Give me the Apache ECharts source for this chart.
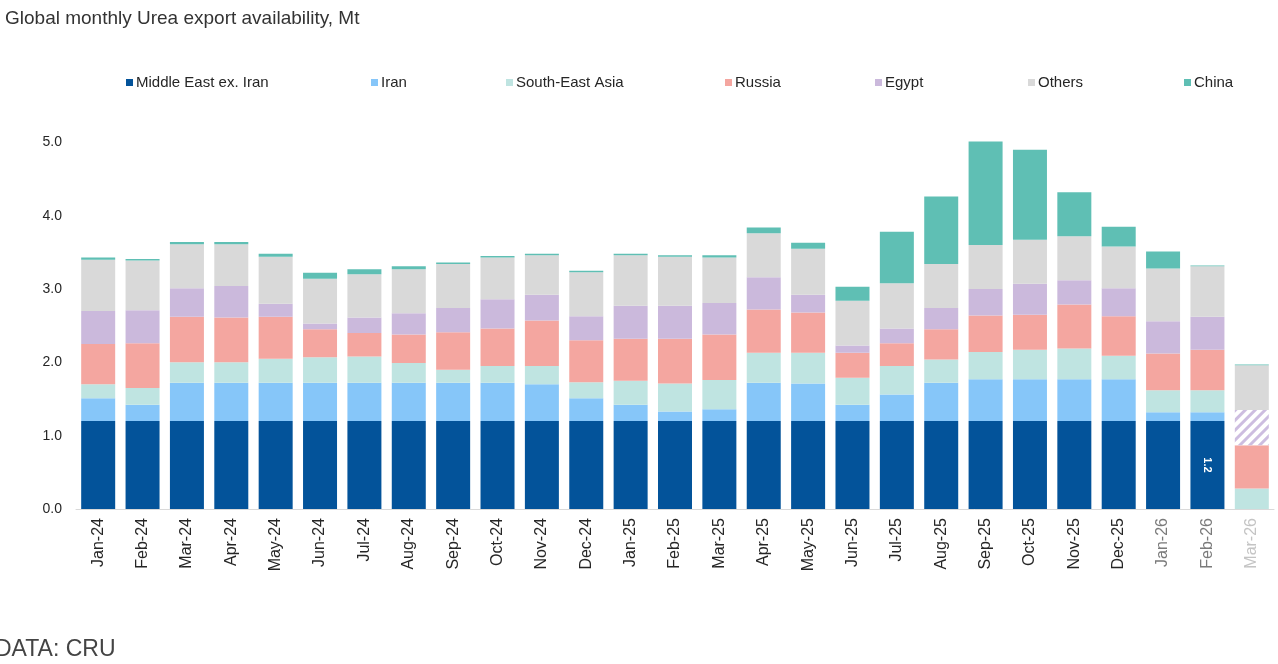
<!DOCTYPE html>
<html>
<head>
<meta charset="utf-8">
<script src="https://cdn.jsdelivr.net/npm/echarts@6/dist/echarts.min.js"></script>
<style>
html,body{margin:0;padding:0;background:#fff;}
#chart{width:1278px;height:664px;}
</style>
</head>
<body>
<div id="chart"></div>
<script>
const months = ['Jan-24','Feb-24','Mar-24','Apr-24','May-24','Jun-24','Jul-24','Aug-24','Sep-24','Oct-24','Nov-24','Dec-24',
  'Jan-25','Feb-25','Mar-25','Apr-25','May-25','Jun-25','Jul-25','Aug-25','Sep-25','Oct-25','Nov-25','Dec-25',
  'Jan-26','Feb-26','Mar-26'];
const seriesNames = ['Middle East ex. Iran','Iran','South-East Asia','Russia','Egypt','Others','China'];
const middleEast = [1.2,1.2,1.2,1.2,1.2,1.2,1.2,1.2,1.2,1.2,1.2,1.2,1.2,1.2,1.2,1.2,1.2,1.2,1.2,1.2,1.2,1.2,1.2,1.2,1.2,1.2,0];
const iran = [0.31,0.22,0.52,0.52,0.52,0.52,0.52,0.52,0.52,0.52,0.50,0.31,0.22,0.13,0.16,0.52,0.51,0.22,0.36,0.52,0.57,0.57,0.57,0.57,0.12,0.12,0];
const seAsia = [0.19,0.23,0.28,0.28,0.33,0.35,0.36,0.27,0.18,0.23,0.25,0.22,0.33,0.38,0.40,0.41,0.42,0.37,0.39,0.32,0.37,0.40,0.42,0.32,0.30,0.30,0.28];
const russia = [0.55,0.61,0.62,0.61,0.57,0.38,0.32,0.39,0.51,0.51,0.62,0.57,0.57,0.61,0.62,0.59,0.55,0.34,0.31,0.41,0.50,0.48,0.60,0.54,0.50,0.55,0.59];
const egypt = [0.45,0.45,0.39,0.43,0.18,0.08,0.21,0.29,0.33,0.40,0.35,0.33,0.45,0.45,0.43,0.44,0.24,0.10,0.20,0.29,0.36,0.42,0.33,0.38,0.44,0.45,0.48];
const others = [0.70,0.68,0.60,0.57,0.64,0.61,0.59,0.60,0.60,0.57,0.54,0.60,0.69,0.67,0.62,0.60,0.63,0.61,0.62,0.60,0.60,0.60,0.60,0.57,0.72,0.69,0.61];
const china = [0.03,0.02,0.03,0.03,0.04,0.08,0.07,0.04,0.02,0.02,0.02,0.02,0.02,0.02,0.03,0.08,0.08,0.19,0.70,0.92,1.41,1.23,0.60,0.27,0.23,0.01,0.01];
const forecastMonths = ['Mar-26'];      // Egypt shown hatched
const labelledMonths = ['Feb-26'];      // Middle East value label shown
const fadedMonths = ['Jan-26','Feb-26'];
const veryFadedMonths = ['Mar-26'];

const colors = ['#03539A','#86C6F9','#BFE4E1','#F4A6A0','#CBB9DC','#D9D9D9','#5FBFB4'];
const values = [middleEast, iran, seAsia, russia, egypt, others, china];
const FONT = 'Liberation Sans, Arial, sans-serif';

const series = seriesNames.map((name, si) => ({
  name: name,
  type: 'bar',
  stack: 'total',
  barWidth: 34,
  itemStyle: { color: colors[si] },
  emphasis: { disabled: true },
  data: values[si].map((v, i) => {
    const m = months[i];
    if (si === 4 && forecastMonths.includes(m)) {
      return { value: v, itemStyle: { color: '#ffffff', decal: { color: '#CDBDE0', symbol: 'rect', symbolSize: 1, dashArrayX: [1, 0], dashArrayY: [3, 4], rotation: -Math.PI / 4 } } };
    }
    if (si === 0 && labelledMonths.includes(m)) {
      return { value: v, label: { show: true, position: 'inside', rotate: -90, color: '#ffffff', fontSize: 11, fontWeight: 'bold', fontFamily: FONT, formatter: (p) => p.value.toFixed(1) } };
    }
    return v;
  })
}));

const legendLefts = [126, 371, 506, 725, 875, 1028, 1184];
const legends = seriesNames.map((n, i) => ({
  data: [n], left: legendLefts[i], top: 75, itemWidth: 7, itemHeight: 7, itemGap: 0,
  icon: 'rect', selectedMode: false, padding: 0,
  textStyle: { fontSize: 15, color: '#262626', fontFamily: FONT, padding: [0, 0, 0, -2] }
}));

const chart = echarts.init(document.getElementById('chart'), null, { renderer: 'canvas' });
chart.setOption({
  animation: false,
  backgroundColor: '#ffffff',
  title: [
    { text: 'Global monthly Urea export availability, Mt', left: 5, top: 9, padding: 0,
      textStyle: { fontSize: 19, fontWeight: 'normal', color: '#333333', fontFamily: FONT } },
    { text: 'DATA: CRU', left: -5, top: 638, padding: 0,
      textStyle: { fontSize: 23, fontWeight: 'normal', color: '#444444', fontFamily: FONT } }
  ],
  legend: legends,
  grid: { left: 76, right: 4, top: 135, bottom: 155, containLabel: false },
  xAxis: {
    type: 'category',
    data: months.map(m => {
      if (veryFadedMonths.includes(m)) return { value: m, textStyle: { color: '#c4c4c4' } };
      if (fadedMonths.includes(m)) return { value: m, textStyle: { color: '#7a7a7a' } };
      return m;
    }),
    axisLine: { show: true, lineStyle: { color: '#D9D9D9', width: 1 } },
    axisTick: { show: false },
    axisLabel: { rotate: 90, interval: 0, fontSize: 16, color: '#262626', fontFamily: FONT, margin: 9 }
  },
  yAxis: {
    type: 'value',
    min: 0, max: 5.1, interval: 1,
    splitLine: { show: false },
    axisLine: { show: false },
    axisTick: { show: false },
    axisLabel: { showMaxLabel: false, fontSize: 14, color: '#262626', fontFamily: FONT, margin: 14,
      formatter: (v) => v.toFixed(1) }
  },
  series: series
});
</script>
</body>
</html>
